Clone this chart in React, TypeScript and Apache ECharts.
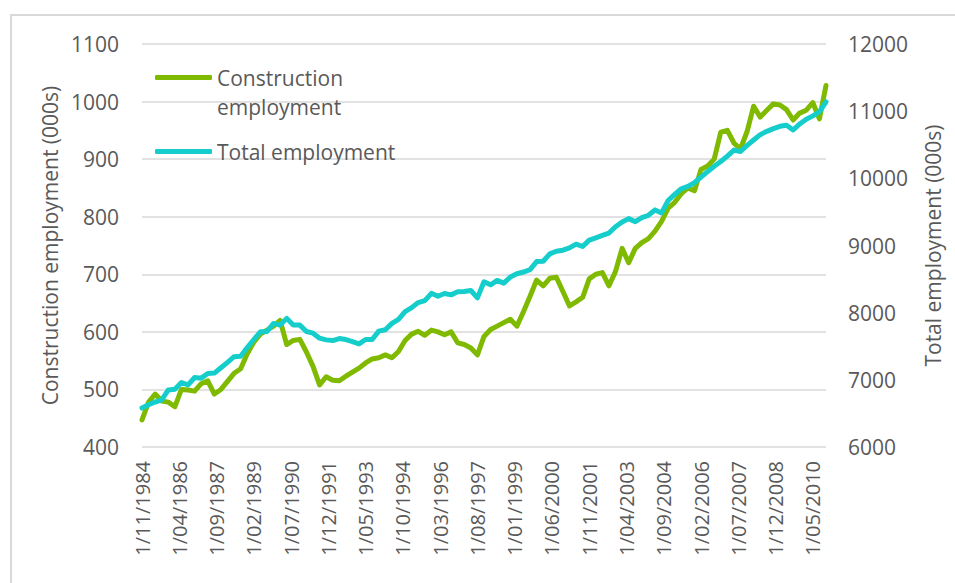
import React, { useEffect, useRef } from "react";
import * as echarts from "echarts";

// Quarterly observations starting 1 Nov 1984 (one value every 3 months)
const startYear = 1984;
const startMonth = 11;
const monthCount = 313; // Nov 1984 .. Nov 2010
const monthsPerPoint = 3;
const labelEvery = 17;

const constructionEmployment = [
  447, 478, 492, 480, 478, 470, 500, 499, 497, 510,
  515, 492, 500, 514, 528, 536, 562, 582, 596, 603,
  610, 620, 578, 585, 587, 565, 540, 508, 522, 516,
  515, 523, 530, 537, 546, 553, 555, 560, 555, 566,
  585, 596, 601, 594, 603, 600, 595, 600, 581, 578,
  572, 560, 592, 604, 610, 616, 622, 610, 635, 662,
  690, 680, 693, 695, 670, 645, 652, 660, 692, 700,
  703, 680, 705, 745, 720, 745, 755, 762, 775, 792,
  815, 825, 840, 850, 845, 882, 888, 900, 947, 950,
  928, 918, 948, 992, 973, 985, 996, 994, 986, 968,
  980, 985, 998, 970, 1028,
];

const totalEmployment = [
  6580, 6630, 6670, 6700, 6850, 6860, 6960, 6925, 7035, 7025,
  7095, 7100, 7180, 7260, 7345, 7350, 7480, 7600, 7715, 7720,
  7840, 7815, 7915, 7815, 7815, 7720, 7695, 7620, 7595, 7585,
  7615, 7600, 7570, 7535, 7600, 7600, 7725, 7745, 7840, 7900,
  8015, 8075, 8150, 8180, 8288, 8245, 8285, 8265, 8310, 8315,
  8330, 8220, 8460, 8415, 8480, 8440, 8530, 8580, 8605, 8640,
  8760, 8765, 8875, 8915, 8930, 8965, 9020, 8985, 9080, 9115,
  9150, 9185, 9280, 9350, 9400, 9355, 9415, 9450, 9530, 9485,
  9670, 9760, 9845, 9880, 9935, 10020, 10100, 10180, 10250, 10330,
  10420, 10400, 10490, 10570, 10650, 10700, 10740, 10775, 10790, 10720,
  10810, 10880, 10930, 10990, 11140,
];

const seriesNames = ["Construction employment", "Total employment"];
const leftAxisName = "Construction employment (000s)";
const rightAxisName = "Total employment (000s)";

function buildMonths(): string[] {
  const out: string[] = [];
  for (let i = 0; i < monthCount; i++) {
    const m0 = startMonth - 1 + i;
    const y = startYear + Math.floor(m0 / 12);
    const m = (m0 % 12) + 1;
    out.push(`1/${m < 10 ? "0" + m : m}/${y}`);
  }
  return out;
}

const FONT = "'Open Sans', 'Liberation Sans', sans-serif";
const TEXT = "#595959";
const GRID = "#d9d9d9";
const GREEN = "#7fba00";
const CYAN = "#15cecb";

export default function App() {
  const ref = useRef<HTMLDivElement>(null);
  useEffect(() => {
    if (!ref.current) return;
    const chart = echarts.init(ref.current, undefined, { renderer: "svg" });
    const months = buildMonths();
    chart.setOption({
      animation: false,
      backgroundColor: "#ffffff",
      textStyle: { fontFamily: FONT },
      graphic: [
        {
          type: "rect",
          z: -1,
          shape: { x: 11, y: 15, width: 2000, height: 2000 },
          style: { fill: "none", stroke: GRID, lineWidth: 2 },
          silent: true,
        },
      ],
      grid: { left: 142, right: 129, top: 44, bottom: 136, containLabel: false },
      legend: {
        orient: "vertical",
        left: 155,
        top: 34,
        padding: 0,
        itemGap: 16,
        itemWidth: 57,
        itemHeight: 5,
        icon: "roundRect",
        selectedMode: false,
        textStyle: { color: TEXT, fontSize: 21, fontFamily: FONT, lineHeight: 29 },
        formatter: (name: string) =>
          name === seriesNames[0] ? "\nConstruction\nemployment" : name,
        data: [{ name: seriesNames[0] }, { name: seriesNames[1] }],
      },
      xAxis: {
        type: "category",
        data: months,
        boundaryGap: false,
        axisLine: { show: false },
        axisTick: { show: false },
        splitLine: { show: false },
        axisLabel: {
          interval: labelEvery - 1,
          rotate: 90,
          margin: 14,
          color: TEXT,
          fontSize: 20,
          fontFamily: FONT,
        },
      },
      yAxis: [
        {
          type: "value",
          position: "left",
          min: 400,
          max: 1100,
          interval: 100,
          axisLine: { show: false },
          axisTick: { show: false },
          splitLine: { lineStyle: { color: GRID, width: 1.5 } },
          axisLabel: {
            color: TEXT,
            fontSize: 21,
            fontFamily: FONT,
            margin: 23,
            formatter: (v: number) => String(v),
          },
          name: leftAxisName,
          nameLocation: "middle",
          nameRotate: 90,
          nameGap: 77,
          nameTextStyle: { color: TEXT, fontSize: 21, fontFamily: FONT },
        },
        {
          type: "value",
          position: "right",
          min: 6000,
          max: 12000,
          interval: 1000,
          axisLine: { show: false },
          axisTick: { show: false },
          splitLine: { show: false },
          axisLabel: {
            color: TEXT,
            fontSize: 21,
            fontFamily: FONT,
            margin: 22,
            formatter: (v: number) => String(v),
          },
          name: rightAxisName,
          nameLocation: "middle",
          nameRotate: 90,
          nameGap: 96,
          nameTextStyle: { color: TEXT, fontSize: 21, fontFamily: FONT },
        },
      ],
      series: [
        {
          name: seriesNames[0],
          type: "line",
          yAxisIndex: 0,
          symbol: "none",
          color: GREEN,
          lineStyle: { color: GREEN, width: 5, join: "round", cap: "round" },
          data: constructionEmployment.map((v, i) => [i * monthsPerPoint, v]),
        },
        {
          name: seriesNames[1],
          type: "line",
          yAxisIndex: 1,
          symbol: "none",
          color: CYAN,
          lineStyle: { color: CYAN, width: 5, join: "round", cap: "round" },
          data: totalEmployment.map((v, i) => [i * monthsPerPoint, v]),
        },
      ],
    });
    return () => chart.dispose();
  }, []);
  return (
    <div
      ref={ref}
      style={{ position: "fixed", left: 0, top: 0, width: 955, height: 583, background: "#fff" }}
    />
  );
}
